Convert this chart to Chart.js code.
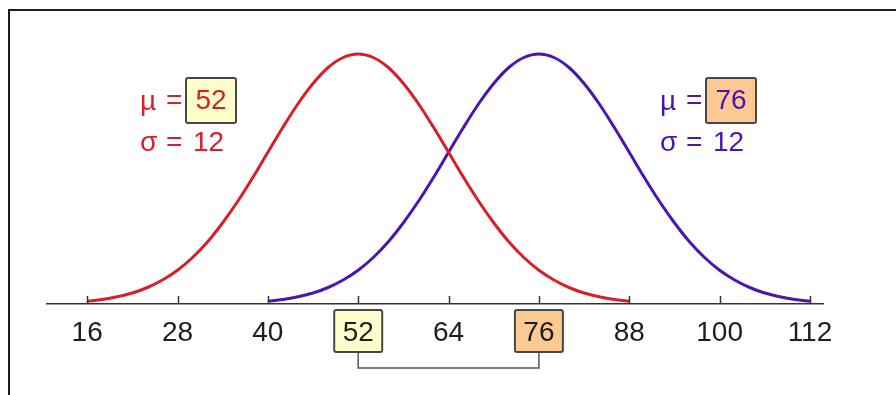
<!DOCTYPE html>
<html>
<head>
<meta charset="utf-8">
<script src="https://cdn.jsdelivr.net/npm/chart.js@4"></script>
<style>
  html, body { margin: 0; padding: 0; background: #fff; }
  #wrap { position: relative; width: 896px; height: 395px; overflow: hidden; }
  #frame { position: absolute; left: 8px; top: 9px; width: 950px; height: 450px;
           border-left: 2px solid #1c1c1c; border-top: 2px solid #1c1c1c; }
  canvas { position: absolute; left: 0; top: 0; }
</style>
</head>
<body>
<div id="wrap">
  <div id="frame"></div>
  <canvas id="chart" width="896" height="395"></canvas>
</div>
<script>
const FONT = "'Liberation Sans', Arial, sans-serif";
const RED = "#d81e28";
const PURPLE = "#4a16ae";

// tick values along the axis
const tickValues = [16, 28, 40, 52, 64, 76, 88, 100, 112];

// red curve (mu 52, sigma 12), sampled every 2 units
const redX = [16, 18, 20, 22, 24, 26, 28, 30, 32, 34, 36, 38, 40, 42, 44, 46, 48, 50, 52,
              54, 56, 58, 60, 62, 64, 66, 68, 70, 72, 74, 76, 78, 80, 82, 84, 86, 88];
const redY = [0.011, 0.018, 0.029, 0.044, 0.066, 0.096, 0.135, 0.186, 0.249, 0.325,
              0.411, 0.506, 0.607, 0.707, 0.801, 0.882, 0.946, 0.986, 1.000,
              0.986, 0.946, 0.882, 0.801, 0.707, 0.607, 0.506, 0.411, 0.325,
              0.249, 0.186, 0.135, 0.096, 0.066, 0.044, 0.029, 0.018, 0.011];

// purple curve (mu 76, sigma 12)
const blueX = [40, 42, 44, 46, 48, 50, 52, 54, 56, 58, 60, 62, 64, 66, 68, 70, 72, 74, 76,
               78, 80, 82, 84, 86, 88, 90, 92, 94, 96, 98, 100, 102, 104, 106, 108, 110, 112];
const blueY = [0.011, 0.018, 0.029, 0.044, 0.066, 0.096, 0.135, 0.186, 0.249, 0.325,
               0.411, 0.506, 0.607, 0.707, 0.801, 0.882, 0.946, 0.986, 1.000,
               0.986, 0.946, 0.882, 0.801, 0.707, 0.607, 0.506, 0.411, 0.325,
               0.249, 0.186, 0.135, 0.096, 0.066, 0.044, 0.029, 0.018, 0.011];

// parameters shown in the labels
const means = [52, 76];
const sigmas = [12, 12];
const meanFills = ["#ffffcc", "#fdc993"];
const seriesColors = [RED, PURPLE];

function toPoints(xs, ys) {
  return xs.map((x, i) => ({ x: x, y: ys[i] }));
}

function box(ctx, x, y, w, h, fill) {
  ctx.save();
  ctx.fillStyle = fill;
  ctx.strokeStyle = "#474747";
  ctx.lineWidth = 2;
  ctx.beginPath();
  ctx.roundRect(x, y, w, h, 2);
  ctx.fill();
  ctx.stroke();
  ctx.restore();
}

const extras = {
  id: "extras",
  beforeDraw(chart) {
    const ctx = chart.ctx;
    const xs = chart.scales.x;
    // shaded boxes behind the mean tick labels, joined by a bracket
    const px = means.map(m => xs.getPixelForValue(m));
    ctx.save();
    ctx.strokeStyle = "#555";
    ctx.lineWidth = 1.5;
    ctx.beginPath();
    ctx.moveTo(px[0], 352);
    ctx.lineTo(px[0], 368);
    ctx.lineTo(px[1], 368);
    ctx.lineTo(px[1], 352);
    ctx.stroke();
    ctx.restore();
    px.forEach((p, i) => box(ctx, p - 24, 310, 48, 42, meanFills[i]));
  },
  afterDraw(chart) {
    const ctx = chart.ctx;
    const xs = chart.scales.x;
    const base = chart.chartArea.bottom;
    // inward tick marks
    ctx.save();
    ctx.strokeStyle = "#333";
    ctx.lineWidth = 1.5;
    tickValues.forEach(v => {
      const p = Math.round(xs.getPixelForValue(v)) + 0.5;
      ctx.beginPath();
      ctx.moveTo(p, base);
      ctx.lineTo(p, base - 8);
      ctx.stroke();
    });
    ctx.restore();

    // mu / sigma labels
    const lefts = [140, 660];
    means.forEach((m, i) => {
      const x0 = lefts[i];
      ctx.save();
      ctx.font = "28px " + FONT;
      ctx.fillStyle = seriesColors[i];
      ctx.textBaseline = "middle";
      ctx.textAlign = "left";
      ctx.fillText("\u00b5", x0, 102);
      ctx.fillText("=", x0 + 26, 101);
      box(ctx, x0 + 46, 78, 50, 45, meanFills[i]);
      ctx.textAlign = "center";
      ctx.fillText(String(m), x0 + 71, 101);
      ctx.textAlign = "left";
      ctx.fillText("\u03c3", x0, 143);
      ctx.fillText("=", x0 + 26, 143);
      ctx.fillText(String(sigmas[i]), x0 + 53, 143);
      ctx.restore();
    });
  }
};

const ctx = document.getElementById("chart").getContext("2d");

const chart = new Chart(ctx, {
  type: "line",
  data: {
    datasets: [{
      data: toPoints(redX, redY),
      borderColor: RED,
      borderWidth: 3,
      pointRadius: 0,
      cubicInterpolationMode: "monotone",
      fill: false
    }, {
      data: toPoints(blueX, blueY),
      borderColor: PURPLE,
      borderWidth: 3,
      pointRadius: 0,
      cubicInterpolationMode: "monotone",
      fill: false
    }]
  },
  options: {
    responsive: false,
    animation: false,
    clip: false,
    layout: { padding: { left: 47, right: 73, top: 54, bottom: 0 } },
    plugins: { legend: { display: false }, tooltip: { enabled: false } },
    scales: {
      x: {
        type: "linear",
        min: 16 - 40 / 7.5,
        max: 112 + 13 / 7.5,
        afterBuildTicks(scale) {
          scale.ticks = tickValues.map(v => ({ value: v }));
        },
        afterFit(scale) { scale.height = 91; },
        grid: { display: false, drawTicks: false },
        border: { display: true, color: "#333", width: 1.5 },
        ticks: {
          padding: 12,
          autoSkip: false,
          maxRotation: 0,
          color: "#1e1e1e",
          font: { family: FONT, size: 28 }
        }
      },
      y: {
        display: false,
        min: 0,
        max: 1
      }
    }
  },
  plugins: [extras]
});
</script>
</body>
</html>
